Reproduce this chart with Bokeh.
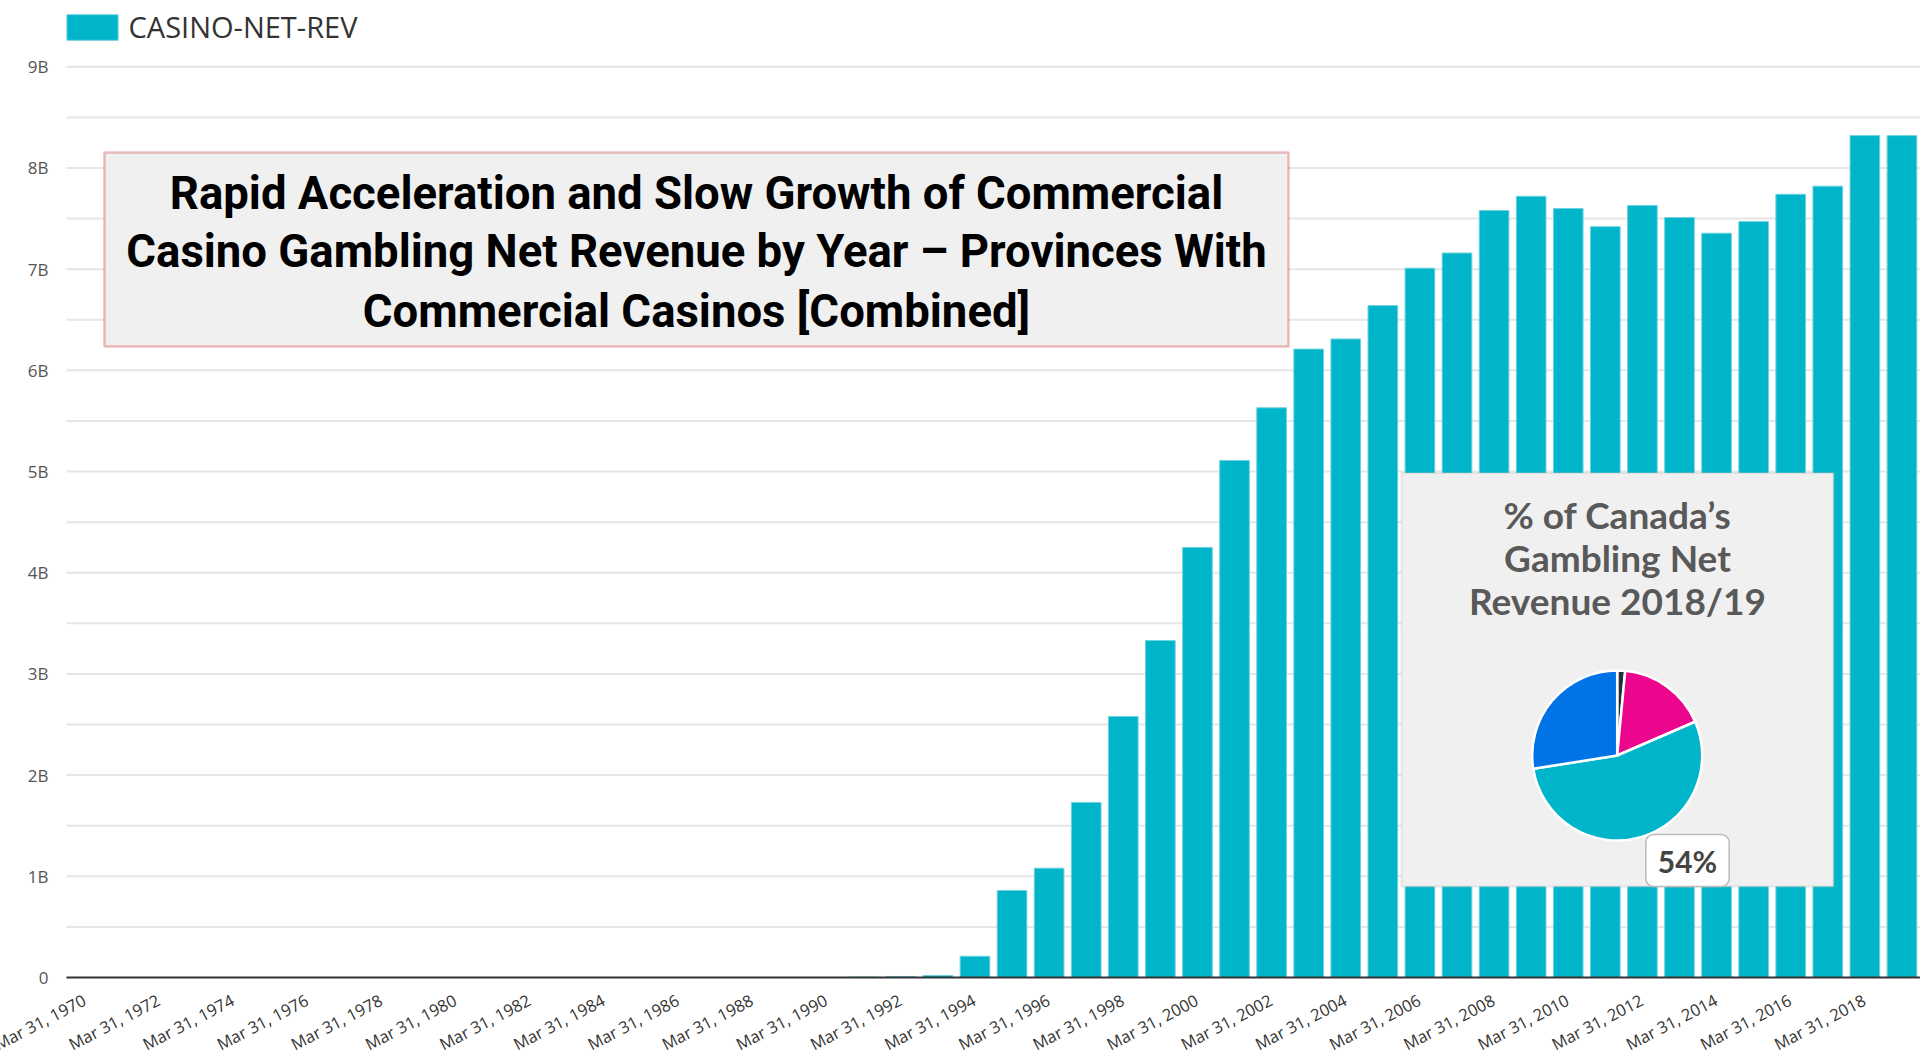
import pandas as pd
from math import pi
from bokeh.plotting import figure
from bokeh.models import (ColumnDataSource, Range1d, Legend, LegendItem,
                          BoxAnnotation, Label)
from bokeh.embed import file_html
from bokeh.resources import INLINE

# ---------------- data ----------------
years = [1970, 1971, 1972, 1973, 1974, 1975, 1976, 1977, 1978, 1979,
         1980, 1981, 1982, 1983, 1984, 1985, 1986, 1987, 1988, 1989,
         1990, 1991, 1992, 1993, 1994, 1995, 1996, 1997, 1998, 1999,
         2000, 2001, 2002, 2003, 2004, 2005, 2006, 2007, 2008, 2009,
         2010, 2011, 2012, 2013, 2014, 2015, 2016, 2017, 2018, 2019]
# casino net revenue, billions
casino_net_rev = [0, 0, 0, 0, 0, 0, 0, 0, 0, 0,
                  0, 0, 0, 0, 0, 0, 0, 0, 0, 0,
                  0, 0.005, 0.01, 0.02, 0.21, 0.86, 1.08, 1.73, 2.58, 3.33,
                  4.25, 5.11, 5.63, 6.21, 6.31, 6.64, 7.01, 7.16, 7.58, 7.72,
                  7.60, 7.42, 7.63, 7.51, 7.355, 7.47, 7.74, 7.82, 8.32, 8.32]
series_name = "CASINO-NET-REV"

tick_years = [1970, 1972, 1974, 1976, 1978, 1980, 1982, 1984, 1986, 1988,
              1990, 1992, 1994, 1996, 1998, 2000, 2002, 2004, 2006, 2008,
              2010, 2012, 2014, 2016, 2018]
tick_labels = ["Mar 31, %d" % y for y in tick_years]

y_ticks = [0, 1, 2, 3, 4, 5, 6, 7, 8, 9]
y_tick_labels = ["0", "1B", "2B", "3B", "4B", "5B", "6B", "7B", "8B", "9B"]
y_grid = [0.5, 1, 1.5, 2, 2.5, 3, 3.5, 4, 4.5, 5, 5.5, 6, 6.5, 7, 7.5, 8, 8.5, 9]

pie_segments = ["Segment A", "Segment B", "Casino", "Segment D"]
pie_shares = [1.5, 17.0, 54.0, 27.5]
pie_colors = ["#22303c", "#ec068d", "#00b5c9", "#0073e6"]

title_lines = ["Rapid Acceleration and Slow Growth of Commercial",
               "Casino Gambling Net Revenue by Year \u2013 Provinces With",
               "Commercial Casinos [Combined]"]
inset_lines = ["% of Canada\u2019s", "Gambling Net", "Revenue 2018/19"]
pie_label = "54%"

# ---------------- layout helpers (screen px -> data) ----------------
W, H = 1920, 1058
PLOT_L = 66                          # pixel column where the bar area starts
BASE_PX = 977.0                      # pixel row of the zero line
X0, X1 = 1969.5, 2019.5
px_per_year = (W - PLOT_L) / (X1 - X0)
px_per_b = (BASE_PX - 66.3) / 9.0
XR_START = X0 - PLOT_L / px_per_year
Y_START = -(H - BASE_PX) / px_per_b
Y_END = BASE_PX / px_per_b


def sx(X):
    return X0 + (X - PLOT_L) / px_per_year


def sy(Y):
    return (BASE_PX - Y) / px_per_b


CYAN = "#00b5c9"

p = figure(width=W, height=H, output_backend="svg", toolbar_location=None,
           x_range=Range1d(XR_START, X1), y_range=Range1d(Y_START, Y_END),
           min_border_left=0, min_border_right=0,
           min_border_top=0, min_border_bottom=0)
p.outline_line_color = None
p.background_fill_color = "white"
p.border_fill_color = "white"
p.xaxis.visible = False
p.yaxis.visible = False
p.xgrid.visible = False
p.ygrid.visible = False

# horizontal grid lines (every 0.5B) across the bar area
grid_src = ColumnDataSource(data=dict(y=y_grid))
p.segment(x0=X0, x1=X1, y0="y", y1="y", source=grid_src,
          line_color="#e6e6e6", line_width=2, level="underlay")

src = ColumnDataSource(data=dict(year=years, rev=casino_net_rev))
bars = p.vbar(x="year", top="rev", width=0.8, source=src,
              fill_color=CYAN, line_color="#6fd3df", line_width=1)

# zero line
p.segment(x0=X0, x1=X1, y0=0, y1=0, line_color="#333333", line_width=2)

# y tick labels
for v, lab in zip(y_ticks, y_tick_labels):
    p.add_layout(Label(x=X0, y=v, text=lab, text_align="right",
                       text_baseline="middle", x_offset=-18,
                       text_font="Open Sans", text_font_size="17px",
                       text_color="#555555"))

# x tick labels (rotated)
lab_y = -11 / px_per_b
lab_dx = -6 / px_per_year
for yr, lab in zip(tick_years, tick_labels):
    p.add_layout(Label(x=yr + lab_dx, y=lab_y, text=lab, angle=0.48,
                       text_align="right", text_baseline="top",
                       text_font="Open Sans", text_font_size="16.5px",
                       text_color="#333333"))

# legend
legend = Legend(items=[LegendItem(label=series_name, renderers=[bars])],
                location=(PLOT_L - 6.4, H - 12 - 34), orientation="horizontal",
                glyph_width=64, glyph_height=32, label_height=32,
                label_standoff=5, padding=0, margin=0, spacing=0,
                border_line_color=None, background_fill_alpha=0,
                label_text_font="Open Sans", label_text_font_size="29px",
                label_text_color="#333333")
p.add_layout(legend)

# title box
p.add_layout(BoxAnnotation(left=sx(104), right=sx(1288), top=sy(152), bottom=sy(346),
                           fill_color="#f0f0f0", fill_alpha=1.0,
                           line_color="#c62828", line_width=2.5, level="annotation"))
for txt, yy in zip(title_lines, [193, 251, 311]):
    p.add_layout(Label(x=sx(696), y=sy(yy), text=txt, text_align="center",
                       text_baseline="middle", text_font="Roboto",
                       text_font_style="bold", text_font_size="45.5px",
                       text_color="#000000", level="overlay"))

# inset box with pie
p.add_layout(BoxAnnotation(left=sx(1401), right=sx(1833), top=sy(472.5), bottom=sy(886),
                           fill_color="#f0f0f0", fill_alpha=1.0,
                           line_color="#bdbdbd", line_width=2, level="annotation"))
for txt, yy in zip(inset_lines, [514, 557, 600]):
    p.add_layout(Label(x=sx(1617), y=sy(yy), text=txt, text_align="center",
                       text_baseline="middle", text_font="Lato",
                       text_font_style="bold", text_font_size="37px",
                       text_color="#595959", level="overlay"))

pie = pd.DataFrame(dict(segment=pie_segments, share=pie_shares, color=pie_colors))
cum = pie["share"].cumsum()
pie["start"] = pi / 2 - 2 * pi * (cum - pie["share"]) / 100.0
pie["end"] = pi / 2 - 2 * pi * cum / 100.0
pie_src = ColumnDataSource(pie)
p.wedge(x=sx(1616.7), y=sy(755), radius=85, radius_units="screen",
        start_angle="start", end_angle="end", direction="clock",
        fill_color="color", line_color="white", line_width=2.5,
        source=pie_src, level="overlay")

p.add_layout(Label(x=sx(1687), y=sy(860), text=pie_label, text_align="center",
                   text_baseline="middle", text_font="Lato", text_font_style="bold",
                   text_font_size="30px", text_color="#444444",
                   background_fill_color="white", border_line_color="#bbbbbb",
                   border_line_width=1.5, padding=(12, 8), border_radius=8,
                   level="overlay"))

open("out.html", "w").write(file_html(p, INLINE))
